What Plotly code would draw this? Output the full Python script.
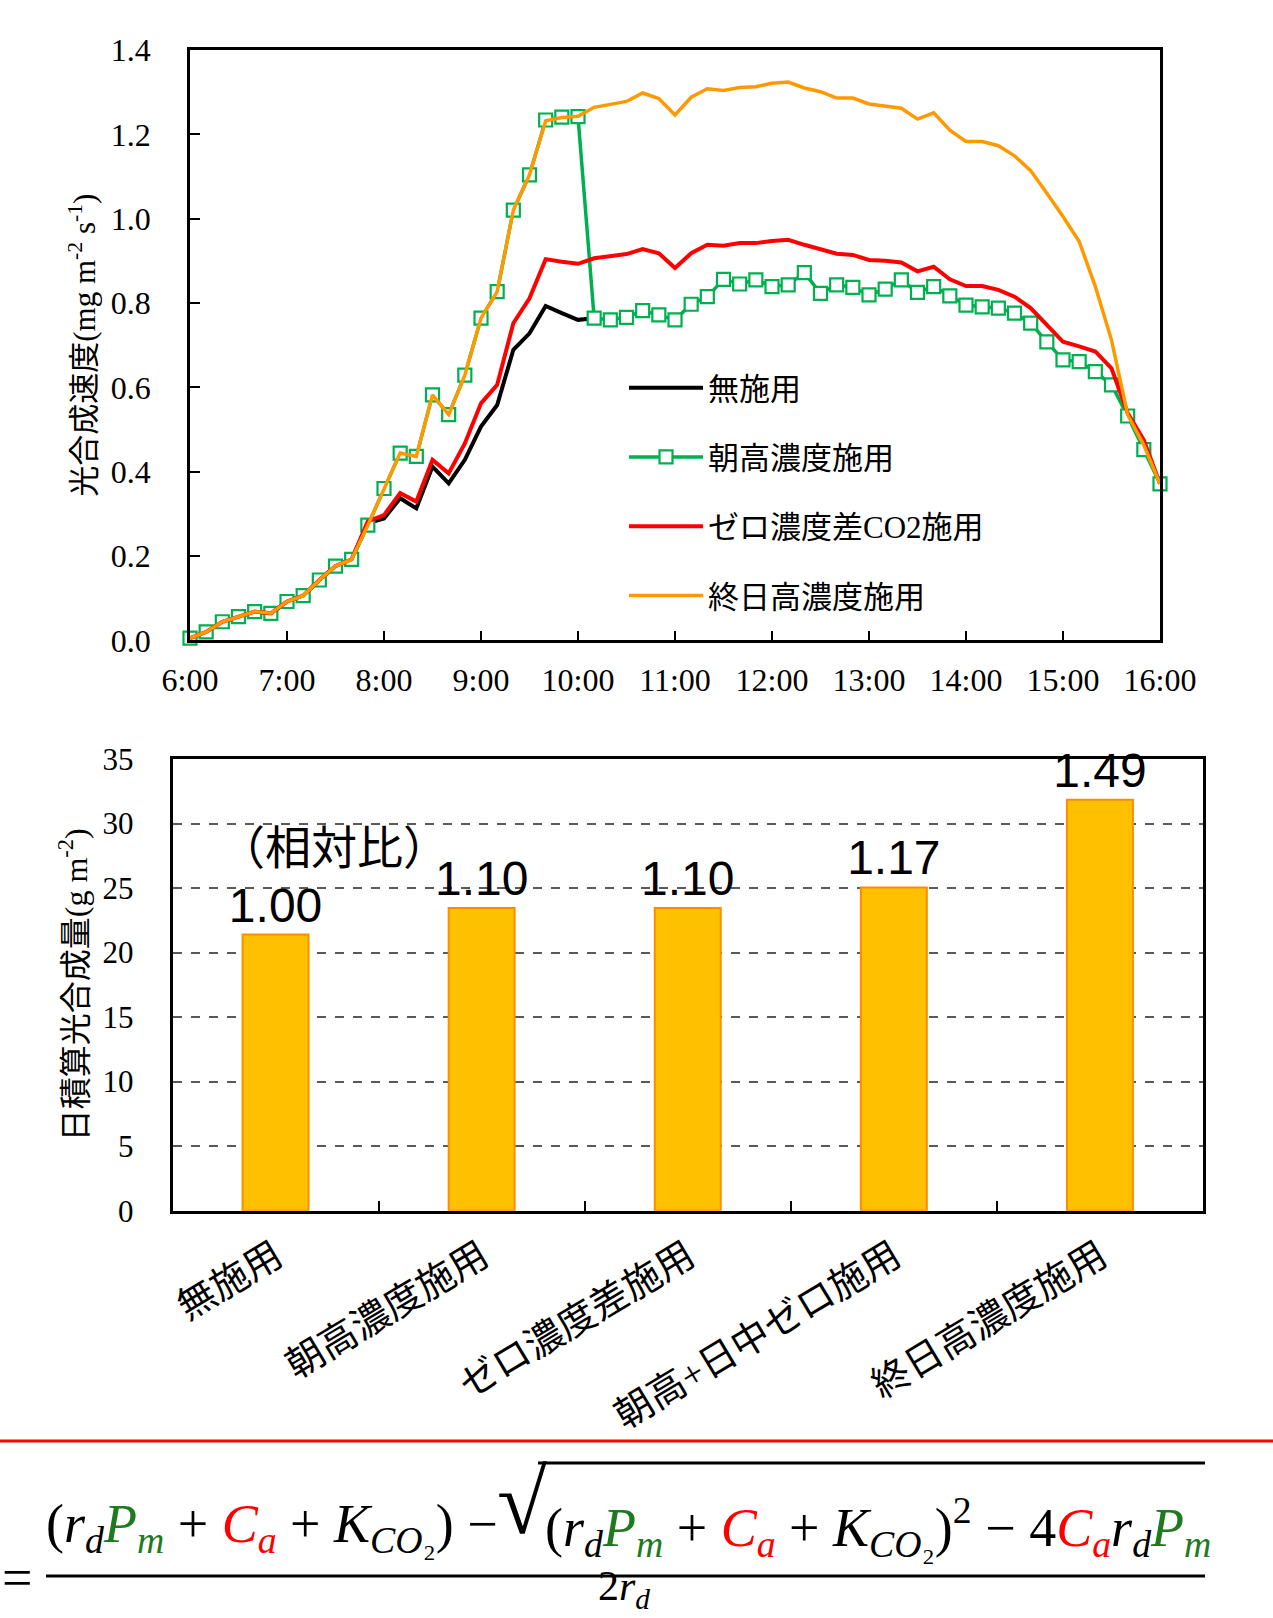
import plotly.graph_objects as go

# ---------------- data ----------------
times = ["6:00", "6:10", "6:20", "6:30", "6:40", "6:50",
         "7:00", "7:10", "7:20", "7:30", "7:40", "7:50",
         "8:00", "8:10", "8:20", "8:30", "8:40", "8:50",
         "9:00", "9:10", "9:20", "9:30", "9:40", "9:50",
         "10:00", "10:10", "10:20", "10:30", "10:40", "10:50",
         "11:00", "11:10", "11:20", "11:30", "11:40", "11:50",
         "12:00", "12:10", "12:20", "12:30", "12:40", "12:50",
         "13:00", "13:10", "13:20", "13:30", "13:40", "13:50",
         "14:00", "14:10", "14:20", "14:30", "14:40", "14:50",
         "15:00", "15:10", "15:20", "15:30", "15:40", "15:50",
         "16:00"]

no_app = [0.005, 0.020, 0.044, 0.056, 0.068, 0.064,
          0.092, 0.106, 0.143, 0.176, 0.192, 0.278,
          0.289, 0.337, 0.313, 0.412, 0.372, 0.428,
          0.507, 0.558, 0.689, 0.728, 0.793, 0.776,
          0.760, 0.764] + [None] * 35

morning_high = [0.005, 0.020, 0.044, 0.056, 0.068, 0.064,
                0.092, 0.106, 0.143, 0.176, 0.192, 0.273,
                0.360, 0.444, 0.436, 0.582, 0.535, 0.629,
                0.764, 0.827, 1.020, 1.104, 1.234, 1.241,
                1.242, 0.764, 0.760, 0.766, 0.782, 0.772,
                0.760, 0.797, 0.815, 0.856, 0.845, 0.855,
                0.839, 0.843, 0.872, 0.823, 0.843, 0.837,
                0.819, 0.833, 0.855, 0.825, 0.839, 0.817,
                0.795, 0.791, 0.788, 0.776, 0.752, 0.708,
                0.665, 0.661, 0.637, 0.606, 0.532, 0.452,
                0.371]

zero_diff = [0.005, 0.020, 0.044, 0.056, 0.068, 0.064,
             0.092, 0.106, 0.143, 0.176, 0.192, 0.282,
             0.297, 0.349, 0.329, 0.428, 0.396, 0.467,
             0.562, 0.606, 0.752, 0.811, 0.904, 0.898,
             0.893, 0.906, 0.912, 0.916, 0.928, 0.918,
             0.883, 0.918, 0.938, 0.936, 0.942, 0.942,
             0.947, 0.950, 0.938, 0.928, 0.917, 0.914,
             0.902, 0.900, 0.896, 0.875, 0.886, 0.856,
             0.840, 0.840, 0.831, 0.815, 0.788, 0.748,
             0.708, 0.697, 0.685, 0.645, 0.539, 0.475,
             0.371]

allday_high = [0.005, 0.020, 0.044, 0.056, 0.068, 0.064,
               0.092, 0.106, 0.143, 0.176, 0.192, 0.273,
               0.360, 0.444, 0.436, 0.582, 0.535, 0.629,
               0.764, 0.827, 1.020, 1.104, 1.232, 1.240,
               1.243, 1.264, 1.271, 1.278, 1.298, 1.285,
               1.246, 1.288, 1.308, 1.304, 1.311, 1.313,
               1.321, 1.324, 1.310, 1.301, 1.286, 1.286,
               1.272, 1.268, 1.262, 1.236, 1.251, 1.210,
               1.183, 1.183, 1.173, 1.149, 1.114, 1.060,
               1.005, 0.946, 0.839, 0.712, 0.535, 0.463,
               0.371]

series_names = ["無施用", "朝高濃度施用", "ゼロ濃度差CO2施用", "終日高濃度施用"]

bar_categories = ["無施用", "朝高濃度施用", "ゼロ濃度差施用", "朝高+日中ゼロ施用", "終日高濃度施用"]
bar_values = [21.4, 23.45, 23.45, 25.05, 31.85]
bar_labels = ["1.00", "1.10", "1.10", "1.17", "1.49"]

hour_ticks = ["6:00", "7:00", "8:00", "9:00", "10:00", "11:00",
              "12:00", "13:00", "14:00", "15:00", "16:00"]

# ---------------- helpers ----------------
W, H = 1273, 1618


def to_dt(t):
    h, m = t.split(":")
    return f"2000-01-01 {int(h):02d}:{m}:00"


def px(x):
    return x / W


def py(y):
    return 1 - y / H


x_dt = [to_dt(t) for t in times]

SERIF = "Liberation Serif, Times New Roman, Noto Sans CJK JP, serif"
CJK_SANS = "Noto Sans CJK JP, sans-serif"

fig = go.Figure()

# line chart traces (drawing order = legend order)
fig.add_trace(go.Scatter(
    x=x_dt, y=no_app, name=series_names[0], mode="lines",
    line=dict(color="#000000", width=4),
    legendgroup="a", xaxis="x", yaxis="y"))
fig.add_trace(go.Scatter(
    x=x_dt, y=morning_high, name=series_names[1], mode="lines+markers",
    line=dict(color="#00B050", width=3.5),
    marker=dict(symbol="square", size=13, color="white",
                line=dict(color="#00B050", width=2.2)),
    cliponaxis=False, legendgroup="b", xaxis="x", yaxis="y"))
fig.add_trace(go.Scatter(
    x=x_dt, y=zero_diff, name=series_names[2], mode="lines",
    line=dict(color="#FF0000", width=4),
    legendgroup="c", xaxis="x", yaxis="y"))
fig.add_trace(go.Scatter(
    x=x_dt, y=allday_high, name=series_names[3], mode="lines",
    line=dict(color="#FF9900", width=3.5),
    legendgroup="d", xaxis="x", yaxis="y"))

# bar chart
fig.add_trace(go.Bar(
    x=bar_categories, y=bar_values, text=bar_labels,
    textposition="outside", constraintext="none", cliponaxis=False,
    textfont=dict(family="Liberation Sans, Arial, sans-serif", size=48, color="#000000"),
    marker=dict(color="#FFC000", line=dict(color="#FF8C00", width=2)),
    showlegend=False, xaxis="x2", yaxis="y2"))

fig.update_layout(
    width=W, height=H,
    autosize=False,
    margin=dict(l=0, r=0, t=0, b=0, pad=0, autoexpand=False),
    paper_bgcolor="white", plot_bgcolor="white",
    bargap=0.68,
    font=dict(family=SERIF, color="#000000"),
    legend=dict(
        x=px(624), y=py(361), xanchor="left", yanchor="top",
        bgcolor="rgba(0,0,0,0)", font=dict(family=SERIF, size=31),
        tracegroupgap=26, traceorder="grouped", itemwidth=74,
    ),
    xaxis=dict(
        domain=[px(190), px(1160)], anchor="y", type="date", automargin=False,
        range=[to_dt("6:00"), to_dt("16:00")],
        tickvals=[to_dt(t) for t in hour_ticks], ticktext=hour_ticks,
        ticks="inside", ticklen=10, tickwidth=2, tickcolor="#000000",
        showline=True, linecolor="#000000", linewidth=2.5, mirror=True,
        showgrid=False, zeroline=False, ticklabelstandoff=10,
        tickfont=dict(family=SERIF, size=32),
    ),
    yaxis=dict(
        domain=[py(640.3), py(50)], anchor="x", automargin=False,
        range=[0, 1.4], dtick=0.2, tickformat=".1f",
        ticks="inside", ticklen=10, tickwidth=2, tickcolor="#000000",
        showline=True, linecolor="#000000", linewidth=2.5, mirror=True,
        showgrid=False, zeroline=False, ticklabelstandoff=30,
        tickfont=dict(family=SERIF, size=32),
        title=dict(text="光合成速度(mg m<sup>-2</sup> s<sup>-1</sup>)",
                   font=dict(family=SERIF, size=31), standoff=6),
    ),
    xaxis2=dict(
        domain=[px(172.5), px(1203)], anchor="y2", automargin=False,
        ticks="inside", tickson="boundaries", ticklen=10, tickwidth=2,
        tickcolor="#000000", tickangle=-31, ticklabelstandoff=6,
        showline=True, linecolor="#000000", linewidth=2.5, mirror=True,
        showgrid=False, zeroline=False,
        tickfont=dict(family=SERIF, size=38),
    ),
    yaxis2=dict(
        domain=[py(1210.7), py(759)], anchor="x2", automargin=False,
        range=[0, 35], dtick=5, ticks="",
        showline=True, linecolor="#000000", linewidth=2.5, mirror=True,
        showgrid=True, gridcolor="#595959", griddash="dash", gridwidth=1.5,
        zeroline=False, ticklabelstandoff=30,
        tickfont=dict(family=SERIF, size=31),
        title=dict(text="日積算光合成量(g m<sup>-2</sup>)",
                   font=dict(family=SERIF, size=32), standoff=6),
    ),
)

# ---------------- annotations ----------------
annos = []
annos.append(dict(xref="paper", yref="paper", x=px(334), y=py(844),
                  text="（相対比）", showarrow=False,
                  font=dict(family=CJK_SANS, size=46, color="#000000"),
                  xanchor="center", yanchor="middle"))

# formula
GREEN = "#1F7A1F"
RED = "#FF0000"


def col(s, c):
    return f"<span style='color:{c}'>{s}</span>"


rd = "<i>r</i><sub><i>d</i></sub>"
Pm = col("<i>P</i><sub><i>m</i></sub>", GREEN)
Ca = col("<i>C</i><sub><i>a</i></sub>", RED)
Kc = "<i>K</i><sub><i>CO</i>₂</sub>"
inner = f"({rd}{Pm} + {Ca} + {Kc})"
left_part = f"{inner} −"
radicand = f"{inner}<sup>2</sup> − 4{Ca}{rd}{Pm}"
FML = "Liberation Serif, DejaVu Serif, serif"

annos.append(dict(xref="paper", yref="paper", x=px(44), y=py(1527),
                  text=left_part, showarrow=False, xanchor="left", yanchor="middle",
                  font=dict(family=FML, size=54, color="#000000")))
annos.append(dict(xref="paper", yref="paper", x=px(522), y=py(1502),
                  text="√", showarrow=False, xanchor="center", yanchor="middle",
                  font=dict(family=FML, size=91, color="#000000")))
annos.append(dict(xref="paper", yref="paper", x=px(543), y=py(1527),
                  text=radicand, showarrow=False, xanchor="left", yanchor="middle",
                  font=dict(family=FML, size=54, color="#000000")))
annos.append(dict(xref="paper", yref="paper", x=0, y=py(1578),
                  text="=", showarrow=False, xanchor="left", yanchor="middle",
                  font=dict(family=FML, size=54, color="#000000")))
annos.append(dict(xref="paper", yref="paper", x=px(624), y=py(1617),
                  text=f"2{rd}", showarrow=False, xanchor="center", yanchor="bottom",
                  font=dict(family=FML, size=42, color="#000000")))
fig.update_layout(annotations=annos)

shapes = [
    dict(type="line", xref="paper", yref="paper", x0=0, x1=1,
         y0=py(1441), y1=py(1441), line=dict(color="#FF0000", width=3)),
    dict(type="line", xref="paper", yref="paper", x0=px(538), x1=px(1205),
         y0=py(1463), y1=py(1463), line=dict(color="#000000", width=3)),
    dict(type="line", xref="paper", yref="paper", x0=px(46), x1=px(1205),
         y0=py(1576), y1=py(1576), line=dict(color="#000000", width=3)),
]
fig.update_layout(shapes=shapes)

fig.write_html("out.html",
               config={"displayModeBar": False},
               post_script="document.body.style.margin='0';document.body.style.padding='0';")
